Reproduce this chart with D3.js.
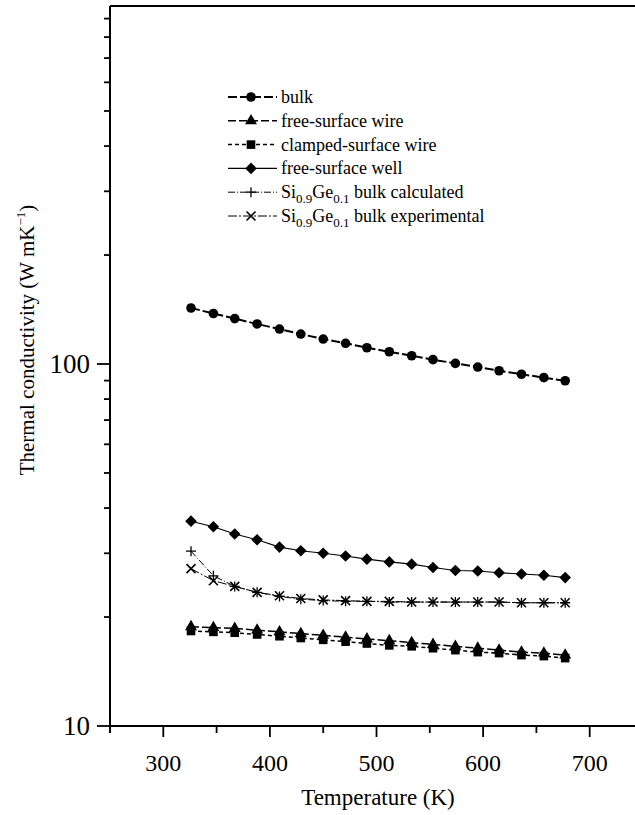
<!DOCTYPE html>
<html>
<head>
<meta charset="utf-8">
<script src="https://cdn.jsdelivr.net/npm/d3@7"></script>
<style>
  body { margin: 0; background: #fff; }
  svg { display: block; font-family: "Liberation Serif", "Times New Roman", serif; }
</style>
</head>
<body>
<svg id="chart" width="635" height="815"></svg>
<script>
// Temperatures (K) shared by all series
const temps = [326, 347, 367, 388, 409, 429, 450, 471, 491, 512, 533, 553, 574, 595, 615, 636, 657, 677];

// Thermal conductivity values (W/mK)
const bulk = [142.8, 137.9, 133.5, 129.0, 124.9, 121.0, 117.2, 114.1, 110.9, 108.1, 105.4, 102.8, 100.4, 98.1, 95.8, 93.7, 91.7, 89.9];
const freeWire = [18.8, 18.7, 18.6, 18.4, 18.2, 18.0, 17.8, 17.6, 17.4, 17.2, 17.0, 16.8, 16.6, 16.4, 16.2, 16.0, 15.9, 15.7];
const clampedWire = [18.3, 18.2, 18.1, 17.9, 17.7, 17.5, 17.3, 17.1, 16.9, 16.7, 16.6, 16.4, 16.2, 16.0, 15.9, 15.7, 15.6, 15.4];
const freeWell = [36.8, 35.5, 33.9, 32.7, 31.2, 30.5, 30.0, 29.5, 28.9, 28.4, 28.0, 27.4, 26.9, 26.8, 26.5, 26.3, 26.1, 25.7];
const siGeCalc = [30.4, 26.0, 24.3, 23.4, 22.8, 22.4, 22.2, 22.1, 22.1, 22.0, 22.0, 22.0, 22.0, 22.0, 22.0, 21.9, 21.9, 21.9];
const siGeExp = [27.2, 25.2, 24.3, 23.4, 22.9, 22.5, 22.3, 22.2, 22.1, 22.1, 22.0, 22.0, 22.0, 22.0, 22.0, 21.9, 21.9, 21.9];

const xTicks = [300, 400, 500, 600, 700];
const yMajor = [10, 100];

const series = [
  { name: "bulk", values: bulk, marker: "circle", width: 2, dash: "9,3" },
  { name: "free-surface wire", values: freeWire, marker: "triangle", width: 1.5, dash: "8,3" },
  { name: "clamped-surface wire", values: clampedWire, marker: "square", width: 1.5, dash: "4,3" },
  { name: "free-surface well", values: freeWell, marker: "diamond", width: 1.1, dash: null },
  { name: "bulk calculated", sige: true, values: siGeCalc, marker: "plus", width: 1, dash: "7,2,1,2" },
  { name: "bulk experimental", sige: true, values: siGeExp, marker: "cross", width: 1, dash: "9,2,2,2" }
];

const svg = d3.select("#chart");
const x = d3.scaleLinear().domain([250, 750]).range([110, 643]);
const y = d3.scaleLog().domain([10, 975]).range([726, 6]);

// markers
function drawMarker(g, type, cx, cy) {
  if (type === "circle") {
    g.append("circle").attr("cx", cx).attr("cy", cy).attr("r", 4.8).attr("fill", "#000");
  } else if (type === "triangle") {
    g.append("path").attr("d", d3.symbol(d3.symbolTriangle, 62)()).attr("transform", `translate(${cx},${cy})`).attr("fill", "#000");
  } else if (type === "square") {
    g.append("rect").attr("x", cx - 4.3).attr("y", cy - 4.3).attr("width", 8.6).attr("height", 8.6).attr("fill", "#000");
  } else if (type === "diamond") {
    g.append("path").attr("d", `M${cx},${cy - 5.8}L${cx + 5.8},${cy}L${cx},${cy + 5.8}L${cx - 5.8},${cy}Z`).attr("fill", "#000");
  } else if (type === "plus") {
    g.append("path").attr("d", `M${cx - 5},${cy}H${cx + 5}M${cx},${cy - 5}V${cy + 5}`).attr("stroke", "#000").attr("stroke-width", 1.3);
  } else if (type === "cross") {
    g.append("path").attr("d", `M${cx - 4.5},${cy - 4.5}L${cx + 4.5},${cy + 4.5}M${cx + 4.5},${cy - 4.5}L${cx - 4.5},${cy + 4.5}`).attr("stroke", "#000").attr("stroke-width", 1.6);
  }
}

// frame: left axis + top line (right part cropped)
svg.append("line").attr("x1", x(250)).attr("x2", 635).attr("y1", y(975)).attr("y2", y(975)).attr("stroke", "#000").attr("stroke-width", 2);

// y axis
const yMinor = [];
for (let d = 10; d < 1000; d *= 10) for (let k = 2; k <= 9; k++) if (d * k < 975) yMinor.push(d * k);
const yAxis = svg.append("g").attr("transform", `translate(${x(250)},0)`);
yAxis.append("line").attr("y1", y(975)).attr("y2", y(10) + 7).attr("stroke", "#000").attr("stroke-width", 2);
yAxis.selectAll("line.minor").data(yMinor).join("line").attr("class", "minor")
  .attr("x1", -6).attr("x2", 0).attr("y1", d => y(d)).attr("y2", d => y(d)).attr("stroke", "#000").attr("stroke-width", 1.8);
yAxis.selectAll("line.major").data(yMajor).join("line").attr("class", "major")
  .attr("x1", -13).attr("x2", 0).attr("y1", d => y(d)).attr("y2", d => y(d)).attr("stroke", "#000").attr("stroke-width", 1.8);
yAxis.selectAll("text").data(yMajor).join("text")
  .attr("x", -20).attr("y", d => y(d) + 9).attr("text-anchor", "end").attr("font-size", 27).text(d => d);

// x axis
const xMinor = d3.range(250, 751, 50).filter(d => !xTicks.includes(d));
const xAxis = svg.append("g").attr("transform", `translate(0,${y(10)})`);
xAxis.append("line").attr("x1", x(250)).attr("x2", 635).attr("stroke", "#000").attr("stroke-width", 2);
xAxis.selectAll("line.minor").data(xMinor).join("line").attr("class", "minor")
  .attr("x1", d => x(d)).attr("x2", d => x(d)).attr("y1", 0).attr("y2", 7).attr("stroke", "#000").attr("stroke-width", 1.8);
xAxis.selectAll("line.major").data(xTicks).join("line").attr("class", "major")
  .attr("x1", d => x(d)).attr("x2", d => x(d)).attr("y1", 0).attr("y2", 11).attr("stroke", "#000").attr("stroke-width", 1.8);
xAxis.selectAll("text").data(xTicks).join("text")
  .attr("x", d => x(d)).attr("y", 45).attr("text-anchor", "middle").attr("font-size", 24).text(d => d);

// axis titles
svg.append("text").attr("x", 378).attr("y", 805).attr("text-anchor", "middle").attr("font-size", 23).text("Temperature (K)");
const yt = svg.append("text").attr("transform", "translate(34,340) rotate(-90)").attr("text-anchor", "middle").attr("font-size", 21);
yt.append("tspan").text("Thermal conductivity (W mK");
yt.append("tspan").attr("font-size", 13).attr("dy", -9).text("\u22121");
yt.append("tspan").attr("dy", 9).text(")");

// series
const line = d3.line().x((d, i) => x(temps[i])).y(d => y(d));
series.forEach(s => {
  const g = svg.append("g");
  g.append("path").attr("d", line(s.values)).attr("fill", "none").attr("stroke", "#000")
    .attr("stroke-width", s.width).attr("stroke-dasharray", s.dash);
  s.values.forEach((v, i) => drawMarker(g, s.marker, x(temps[i]), y(v)));
});

// legend
const legend = svg.append("g");
series.forEach((s, i) => {
  const ly = 97 + i * 23.8;
  legend.append("line").attr("x1", 228).attr("x2", 277).attr("y1", ly).attr("y2", ly)
    .attr("stroke", "#000").attr("stroke-width", s.width).attr("stroke-dasharray", s.dash);
  drawMarker(legend, s.marker, 251, ly);
  const t = legend.append("text").attr("x", 281).attr("y", ly + 6).attr("font-size", 18);
  if (s.sige) {
    t.append("tspan").text("Si");
    t.append("tspan").attr("font-size", 13).attr("dy", 5).text("0.9");
    t.append("tspan").attr("dy", -5).text("Ge");
    t.append("tspan").attr("font-size", 13).attr("dy", 5).text("0.1");
    t.append("tspan").attr("dy", -5).text(" " + s.name);
  } else {
    t.text(s.name);
  }
});
</script>
</body>
</html>
